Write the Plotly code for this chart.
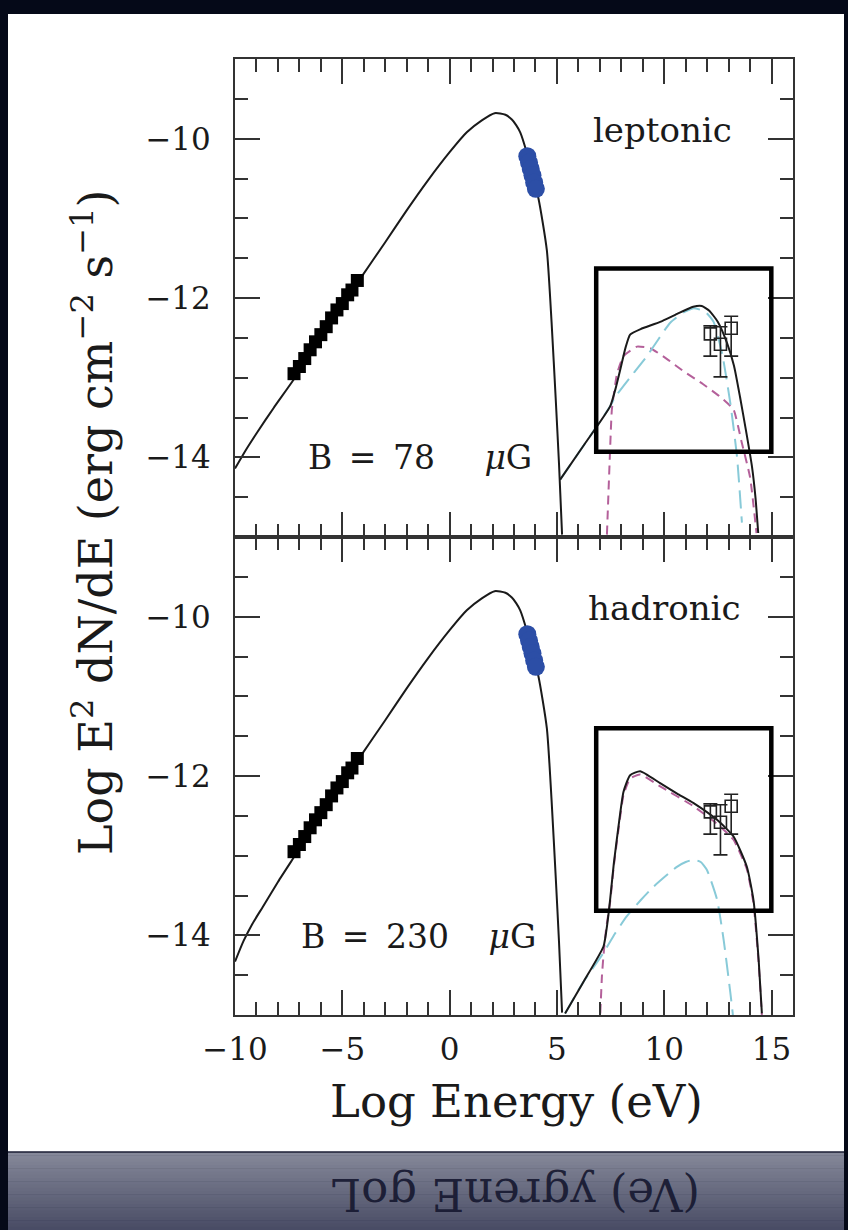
import plotly.graph_objects as go

# ---------------- data ----------------
# synchrotron component, top (leptonic) panel
sync_top_x = [-10, -9.5, -9.0, -8.2, -7.28, -6.0, -4.17, -3.0, -2.0, -1.0, 0.0, 0.8, 1.5, 2.1, 2.6, 2.9, 3.1, 3.29, 3.6, 3.85, 4.14, 4.53, 4.75, 4.95, 5.1, 5.24]
sync_top_y = [-14.14, -13.91, -13.70, -13.38, -13.03, -12.5, -11.76, -11.3, -10.9, -10.52, -10.17, -9.92, -9.77, -9.68, -9.70, -9.76, -9.83, -9.92, -10.18, -10.45, -10.75, -11.4, -12.3, -13.3, -14.1, -14.97]
# synchrotron component, bottom (hadronic) panel
sync_bot_x = [-10, -9.6, -9.2, -8.7, -8.0, -7.28, -6.0, -4.17, -3.0, -2.0, -1.0, 0.0, 0.8, 1.5, 2.1, 2.6, 2.9, 3.1, 3.29, 3.6, 3.85, 4.14, 4.53, 4.75, 4.95, 5.1, 5.24]
sync_bot_y = [-14.33, -14.07, -13.86, -13.64, -13.33, -13.03, -12.5, -11.76, -11.3, -10.9, -10.52, -10.17, -9.92, -9.77, -9.68, -9.70, -9.76, -9.83, -9.92, -10.18, -10.45, -10.75, -11.4, -12.3, -13.3, -14.1, -14.97]

# high-energy total, leptonic
tot_lep_x = [5.15, 6.3, 7.48, 7.72, 7.95, 8.2, 8.41, 8.9, 9.81, 10.6, 11.35, 11.75, 12.1, 12.5, 12.92, 13.25, 13.53, 13.8, 14.09, 14.25, 14.38]
tot_lep_y = [-14.28, -13.83, -13.36, -13.15, -12.9, -12.62, -12.46, -12.39, -12.30, -12.2, -12.11, -12.1, -12.16, -12.3, -12.56, -12.85, -13.24, -13.65, -14.12, -14.5, -14.95]
# bremsstrahlung-like (magenta dashed), leptonic
mag_lep_x = [7.33, 7.45, 7.56, 7.8, 8.1, 8.73, 9.35, 10.1, 10.9, 11.8, 12.61, 13.23, 13.6, 14.0, 14.3]
mag_lep_y = [-14.97, -14.1, -13.40, -12.95, -12.73, -12.61, -12.63, -12.76, -12.92, -13.08, -13.24, -13.40, -13.8, -14.25, -14.95]
# inverse Compton (cyan long dash), leptonic
ic_lep_x = [5.15, 6.3, 7.48, 7.72, 8.4, 9.19, 10.28, 10.9, 11.37, 11.9, 12.3, 12.7, 13.08, 13.39, 13.62]
ic_lep_y = [-14.28, -13.83, -13.36, -13.24, -13.0, -12.73, -12.31, -12.18, -12.13, -12.17, -12.3, -12.7, -13.32, -13.99, -14.82]

# high-energy total, hadronic
tot_had_x = [5.38, 6.2, 7.17, 7.35, 7.48, 7.65, 7.87, 8.1, 8.41, 8.88, 9.81, 10.6, 11.37, 12.46, 13.23, 13.85, 14.16, 14.4, 14.55]
tot_had_y = [-14.98, -14.6, -14.14, -13.85, -13.55, -13.1, -12.63, -12.2, -11.99, -11.94, -12.09, -12.22, -12.34, -12.55, -12.76, -13.14, -13.56, -14.31, -14.98]
# pion decay (magenta dashed), hadronic
mag_had_x = [7.02, 7.1, 7.17, 7.3, 7.48, 7.65, 7.87, 8.1, 8.41, 8.88, 9.81, 11.37, 12.46, 13.23, 13.85, 14.16, 14.4, 14.55]
mag_had_y = [-14.98, -14.5, -14.25, -13.9, -13.58, -13.13, -12.67, -12.24, -12.03, -11.98, -12.13, -12.38, -12.6, -12.8, -13.17, -13.6, -14.35, -15.0]
# inverse Compton (cyan long dash), hadronic
ic_had_x = [5.38, 6.2, 7.17, 7.7, 8.26, 8.9, 9.5, 10.59, 11.0, 11.37, 11.7, 11.99, 12.46, 12.77, 13.08, 13.2]
ic_had_y = [-14.98, -14.6, -14.22, -13.98, -13.76, -13.56, -13.39, -13.14, -13.08, -13.05, -13.08, -13.18, -13.55, -14.06, -14.72, -15.0]

# radio data (filled black squares)
radio_x = [-7.25, -7.0, -6.75, -6.5, -6.25, -6.0, -5.75, -5.5, -5.25, -5.0, -4.75, -4.55, -4.3]
radio_y = [-12.95, -12.86, -12.76, -12.65, -12.55, -12.46, -12.36, -12.25, -12.15, -12.07, -11.96, -11.9, -11.78]
# X-ray data (blue blob)
xray_x = [3.62, 3.70, 3.78, 3.86, 3.94, 4.02]
xray_y = [-10.22, -10.30, -10.38, -10.46, -10.55, -10.63]
# TeV data (open squares with error bars)
tev_x = [12.15, 12.62, 13.12]
tev_y = [-12.45, -12.58, -12.38]
tev_err_up = [0.10, 0.22, 0.15]
tev_err_dn = [0.28, 0.41, 0.35]

# highlight boxes [x0, x1, y0, y1]
box_top = [6.83, 14.99, -13.93, -11.63]
box_bot = [6.83, 14.99, -13.69, -11.40]

panel_labels = ["leptonic", "hadronic"]
field_labels = ["B\u2002=\u200278\u2003\u2002<i>μ</i>G", "B\u2002=\u2002230\u2003\u2009<i>μ</i>G"]
x_title = "Log Energy (eV)"
y_title = "Log E<sup>2</sup> dN/dE (erg cm<sup>−2</sup> s<sup>−1</sup>)"

# ---------------- figure ----------------
W, H = 848, 1230
def PX(x):
    return x / W
def PY(y):
    return 1 - y / H

FONT = "DejaVu Serif"
INK = "#1a1a1a"
MAG = "#b4609a"
CYAN = "#88cad8"
BLUE = "#2c4ea6"

fig = go.Figure()

def add_panel(xa, ya, sx, sy, tx, ty, mx, my, cx, cy):
    fig.add_trace(go.Scatter(x=mx, y=my, mode="lines", xaxis=xa, yaxis=ya,
                             line=dict(color=MAG, width=2, dash="9px,6px", shape="spline", smoothing=0.4),
                             hoverinfo="skip"))
    fig.add_trace(go.Scatter(x=cx, y=cy, mode="lines", xaxis=xa, yaxis=ya,
                             line=dict(color=CYAN, width=2, dash="18px,8px", shape="spline", smoothing=0.5),
                             hoverinfo="skip"))
    fig.add_trace(go.Scatter(x=sx, y=sy, mode="lines", xaxis=xa, yaxis=ya,
                             line=dict(color=INK, width=2, shape="spline", smoothing=0.6)))
    fig.add_trace(go.Scatter(x=tx, y=ty, mode="lines", xaxis=xa, yaxis=ya,
                             line=dict(color=INK, width=2, shape="spline", smoothing=0.5)))
    fig.add_trace(go.Scatter(x=radio_x, y=radio_y, mode="markers", xaxis=xa, yaxis=ya,
                             marker=dict(symbol="square", size=13, color="black")))
    fig.add_trace(go.Scatter(x=xray_x, y=xray_y, mode="markers", xaxis=xa, yaxis=ya,
                             marker=dict(symbol="circle", size=18, color=BLUE, line=dict(width=0))))
    fig.add_trace(go.Scatter(x=tev_x, y=tev_y, mode="markers", xaxis=xa, yaxis=ya,
                             marker=dict(symbol="square-open", size=12, color="#222",
                                         line=dict(width=1.6, color="#222")),
                             error_y=dict(type="data", symmetric=False, array=tev_err_up,
                                          arrayminus=tev_err_dn, color="#222",
                                          thickness=1.6, width=7)))

add_panel("x", "y", sync_top_x, sync_top_y, tot_lep_x, tot_lep_y, mag_lep_x, mag_lep_y, ic_lep_x, ic_lep_y)
add_panel("x2", "y2", sync_bot_x, sync_bot_y, tot_had_x, tot_had_y, mag_had_x, mag_had_y, ic_had_x, ic_had_y)

x_dom = [PX(235), PX(793)]
top_dom = [PY(537), PY(59)]
bot_dom = [PY(1015), PY(537)]

axis_common = dict(showline=True, linecolor="#333", linewidth=2, mirror="ticks",
                   ticks="inside", tickwidth=2, tickcolor="#333", ticklen=25,
                   showgrid=False, zeroline=False, automargin=False,
                   tickfont=dict(family=FONT, size=31, color=INK))

xcfg = dict(axis_common, range=[-10, 16], tick0=-10, dtick=5,
            minor=dict(ticks="inside", ticklen=13, tickwidth=2, tickcolor="#333", dtick=1, showgrid=False))
ycfg = dict(axis_common, range=[-15, -9], tick0=-10, dtick=2,
            minor=dict(ticks="inside", ticklen=13, tickwidth=2, tickcolor="#333", dtick=0.5, showgrid=False))

fig.update_layout(
    width=W, height=H,
    autosize=False,
    margin=dict(l=0, r=0, t=0, b=0, pad=0),
    paper_bgcolor="#050918",
    plot_bgcolor="white",
    showlegend=False,
    xaxis=dict(xcfg, domain=x_dom, anchor="y", showticklabels=False),
    yaxis=dict(ycfg, domain=top_dom, anchor="x", ticklabelstandoff=16),
    xaxis2=dict(xcfg, domain=x_dom, anchor="y2", ticklabelstandoff=6),
    yaxis2=dict(ycfg, domain=bot_dom, anchor="x2", ticklabelstandoff=16),
)

shapes = []
# white slide panel
shapes.append(dict(type="rect", xref="paper", yref="paper", x0=PX(8), x1=PX(844), y0=PY(1152), y1=PY(14),
                   fillcolor="white", line=dict(width=0), layer="below"))
# gradient reflection band
n = 24
top_c = (134, 137, 154)
bot_c = (72, 75, 100)
for i in range(n):
    y0 = 1152 + (1230 - 1152) * i / n
    y1 = 1152 + (1230 - 1152) * (i + 1) / n
    t = (i + 0.5) / n
    c = tuple(int(round(top_c[k] + (bot_c[k] - top_c[k]) * t)) for k in range(3))
    shapes.append(dict(type="rect", xref="paper", yref="paper", x0=PX(8), x1=PX(844),
                       y0=PY(y1 + 0.5), y1=PY(y0), fillcolor="rgb(%d,%d,%d)" % c,
                       line=dict(width=0), layer="below"))
shapes.append(dict(type="line", xref="paper", yref="paper", x0=PX(8), x1=PX(844), y0=PY(1152), y1=PY(1152),
                   line=dict(color="#1a1d33", width=1.5), layer="below"))
# highlight boxes
for b, xr, yr in [(box_top, "x", "y"), (box_bot, "x2", "y2")]:
    shapes.append(dict(type="rect", xref=xr, yref=yr, x0=b[0], x1=b[1], y0=b[2], y1=b[3],
                       line=dict(color="black", width=4.5), fillcolor="rgba(0,0,0,0)", layer="above"))
fig.update_layout(shapes=shapes)

C = dict(xanchor="center", yanchor="middle", showarrow=False)
ann = []
ann.append(dict(C, text=panel_labels[0], x=9.91, y=-9.89, xref="x", yref="y",
                font=dict(family=FONT, size=34, color=INK)))
ann.append(dict(C, text=panel_labels[1], x=10.0, y=-9.89, xref="x2", yref="y2",
                font=dict(family=FONT, size=34, color=INK)))
ann.append(dict(C, text=field_labels[0], x=-1.38, y=-14.0, xref="x", yref="y",
                font=dict(family=FONT, size=33, color=INK)))
ann.append(dict(C, text=field_labels[1], x=-1.47, y=-14.02, xref="x2", yref="y2",
                font=dict(family=FONT, size=33, color=INK)))
ann.append(dict(C, text=x_title, x=PX(516), y=PY(1101), xref="paper", yref="paper",
                font=dict(family=FONT, size=45, color=INK)))
ann.append(dict(C, text=y_title, x=PX(93), y=PY(522), xref="paper", yref="paper",
                textangle=-90, font=dict(family=FONT, size=46, color=INK)))
# mirrored reflection of the x title (rotated so it reads like a reflection)
ann.append(dict(C, text="(Ve) ygrenE goL", x=PX(516), y=PY(1195),
                xref="paper", yref="paper",
                textangle=180, font=dict(family=FONT, size=45, color="rgba(22,24,48,0.92)")))
fig.update_layout(annotations=ann)

fig.write_html("out.html")
